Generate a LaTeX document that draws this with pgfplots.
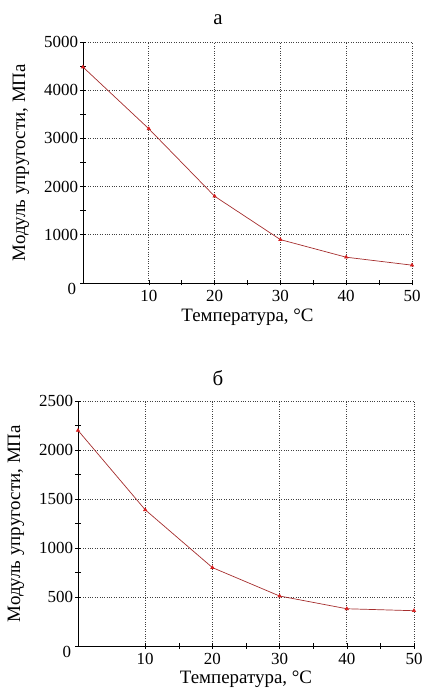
\documentclass[border=0pt]{standalone}
\usepackage{pgfplots}
\pgfplotsset{compat=1.18}
\usepackage{fontspec}
\setmainfont{Liberation Serif}
\definecolor{linec}{RGB}{165,45,45}
\definecolor{markc}{RGB}{215,30,30}
\begin{document}
\begin{tikzpicture}
\useasboundingbox (0bp,0bp) rectangle (422bp,692bp);
\pgfplotsset{
  mystyle/.style={
    scale only axis,
    axis lines=left,
    axis line style={-, black, line width=0.8pt},
    xmin=0, xmax=50,
    xtick={10,20,30,40,50},
    minor x tick num=1,
    minor y tick num=1,
    tick align=center,
    major tick length=5bp,
    minor tick length=5bp,
    tick style={black, line width=0.6pt},
    grid=major,
    major grid style={dotted, black!75, line width=0.7pt},
    /pgf/number format/assume math mode=true,
    ticklabel style={font=\fontsize{17}{18}\selectfont},
    label style={font=\fontsize{19}{21}\selectfont},
    xlabel={Температура, °С},
    ylabel={Модуль упругости, МПа},
    ylabel style={yshift=3bp},
    yticklabel style={xshift=1bp},
    xticklabel style={yshift=-1bp},
    clip=false,
  },
  myline/.style={linec, line width=0.7pt, mark=triangle*, mark size=1.8pt,
    mark options={markc, draw=markc, fill=markc}},
}
\begin{axis}[mystyle,
  at={(83bp,409bp)}, anchor=south west,
  width=329bp, height=241bp,
  ymin=0, ymax=5000,
  ytick={1000,2000,3000,4000,5000},
  extra y ticks={0},
  extra y tick style={grid=none, yticklabel style={yshift=-6bp, xshift=-2bp}},
  /pgf/number format/1000 sep={},
  xlabel style={yshift=-1bp},
]
\addplot[myline] coordinates {
  (0,4480) (10,3200) (20,1800) (30,900) (40,535) (50,370)
};
\end{axis}
\node[font=\fontsize{21}{23}\selectfont] at (218bp,672bp) {а};
\begin{axis}[mystyle,
  at={(78bp,46bp)}, anchor=south west,
  width=336bp, height=245bp,
  ymin=0, ymax=2500,
  ytick={500,1000,1500,2000,2500},
  extra y ticks={0},
  extra y tick style={grid=none, yticklabel style={yshift=-6bp, xshift=-2bp}},
  /pgf/number format/1000 sep={},
  xticklabel style={yshift=0bp},
  xlabel style={yshift=0bp},
]
\addplot[myline] coordinates {
  (0,2200) (10,1390) (20,800) (30,510) (40,380) (50,360)
};
\end{axis}
\node[font=\fontsize{21}{23}\selectfont] at (218bp,314bp) {б};
\end{tikzpicture}
\end{document}
